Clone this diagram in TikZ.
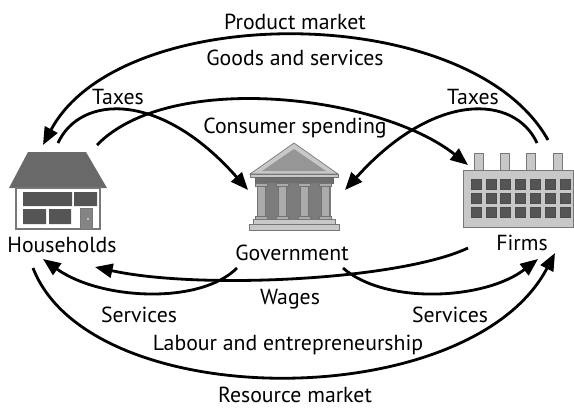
\documentclass[tikz,border=0pt]{standalone}
\usepackage{fontspec}
\setmainfont{PT Sans}
\usetikzlibrary{arrows.meta, positioning}
\definecolor{roofgray}{RGB}{105,105,105}
\definecolor{wingray}{RGB}{85,85,85}
\definecolor{edgegray}{RGB}{120,120,120}
\definecolor{palegray}{RGB}{200,200,200}
\definecolor{midgray}{RGB}{150,150,150}
\definecolor{darkgray}{RGB}{110,110,110}

\begin{document}
\begin{tikzpicture}[x=0.02cm, y=-0.02cm,
  lbl/.style={font=\fontsize{12.4}{14}\selectfont, inner sep=0pt},
  arr/.style={-{Triangle[length=10pt, width=8pt]}, line width=1.6pt},
  win/.style={fill=wingray, draw=black!70, line width=0.3pt},
]
  \useasboundingbox (0,0) rectangle (574,407);

  % households
  \fill[roofgray] (28,152) -- (86,152) -- (107,188) -- (9,188) -- cycle;
  \draw[edgegray, fill=white, line width=1pt] (16,188) rectangle (100,229);
  \fill[wingray] (23,192) rectangle (72,206) (74,192) rectangle (97,206)
    (23,209) rectangle (46,224) (49,209) rectangle (71,224);
  \draw[edgegray, fill=darkgray!85, line width=0.5pt] (80,208) rectangle (92,229);
  \fill[white] (88,219) circle (0.9);

  % government
  \filldraw[draw=edgegray, fill=palegray] (294,143) -- (338,174) -- (250,174) -- cycle;
  \fill[midgray] (294,149) -- (326,171) -- (262,171) -- cycle;
  \filldraw[draw=edgegray, fill=palegray] (250,174) rectangle (338,177);
  \filldraw[draw=black!60, fill=darkgray] (255,177) rectangle (333,183);
  \fill[darkgray!90] (257,183) rectangle (331,219);
  \foreach \cx in {261.5,282.5,304,325}{
    \filldraw[draw=black!55, fill=midgray!80] (\cx-6,183) rectangle (\cx+6,186);
    \filldraw[draw=black!55, fill=midgray!80] (\cx-4,186) rectangle (\cx+4,216);
    \filldraw[draw=black!55, fill=midgray!80] (\cx-6,216) rectangle (\cx+6,219);
  }
  \filldraw[draw=edgegray, fill=palegray] (253,219) rectangle (335,224);
  \filldraw[draw=edgegray, fill=palegray] (249,224) rectangle (339,230);

  % firms
  \foreach \cx in {479,504.5,531,557.5}
    \filldraw[draw=edgegray, fill=palegray] (\cx-4.5,153) rectangle (\cx+4.5,170);
  \filldraw[draw=edgegray, fill=palegray] (463,170) rectangle (573,227);
  \foreach \i in {0,...,6}
    \foreach \j in {0,...,2}
      \draw[win] (471+\i*14.8,179+\j*14) rectangle ++(10,10);

  % labels
  \node[lbl] (hh) at (62,245) {Households};
  \node[lbl] (gov) at (292,253) {Government};
  \node[lbl] (firms) at (522,243) {Firms};
  \node[lbl] (pm) at (295,22) {Product market};
  \node[lbl] (gs) at (295,58) {Goods and services};
  \node[lbl] (taxL) at (118,97) {Taxes};
  \node[lbl] (taxR) at (473,97) {Taxes};
  \node[lbl] (cs) at (295,128) {Consumer spending};
  \node[lbl] (wg) at (290,299) {Wages};
  \node[lbl] (svL) at (139,315) {Services};
  \node[lbl] (svR) at (450,315) {Services};
  \node[lbl] (lab) at (288,345) {Labour and entrepreneurship};
  \node[lbl] (rm) at (295,395) {Resource market};

  % connector ends
  \coordinate (hhIn1) at (43,145);
  \coordinate (hhOut1) at (97,145);
  \coordinate (hhOut2) at (58,143);
  \coordinate (hhIn2) at (95,267);
  \coordinate (hhIn3) at (43,259);
  \coordinate (hhOut3) at (33,268);
  \coordinate (govIn1) at (248,190);
  \coordinate (govIn2) at (345,190);
  \coordinate (govOut1) at (237,268);
  \coordinate (govOut2) at (343,268);
  \coordinate (firmOut1) at (548,140);
  \coordinate (firmIn1) at (468,165);
  \coordinate (firmOut2) at (537,143);
  \coordinate (firmOut3) at (468,248);
  \coordinate (firmIn2) at (538,259);
  \coordinate (firmIn3) at (555,253);

  % flows
  \draw[arr] (firmOut1) .. controls (470,0) and (120,0) .. (hhIn1);
  \draw[arr] (hhOut1) .. controls (170,70) and (380,95) .. (firmIn1);
  \draw[arr] (hhOut2) .. controls (80,95) and (160,90) .. (govIn1);
  \draw[arr] (firmOut2) .. controls (515,95) and (435,90) .. (govIn2);
  \draw[arr] (firmOut3) .. controls (400,280) and (200,290) .. (hhIn2);
  \draw[arr] (govOut1) .. controls (200,305) and (100,300) .. (hhIn3);
  \draw[arr] (govOut2) .. controls (385,305) and (485,300) .. (firmIn2);
  \draw[arr] (hhOut3) .. controls (90,415) and (470,415) .. (firmIn3);
\end{tikzpicture}
\end{document}
